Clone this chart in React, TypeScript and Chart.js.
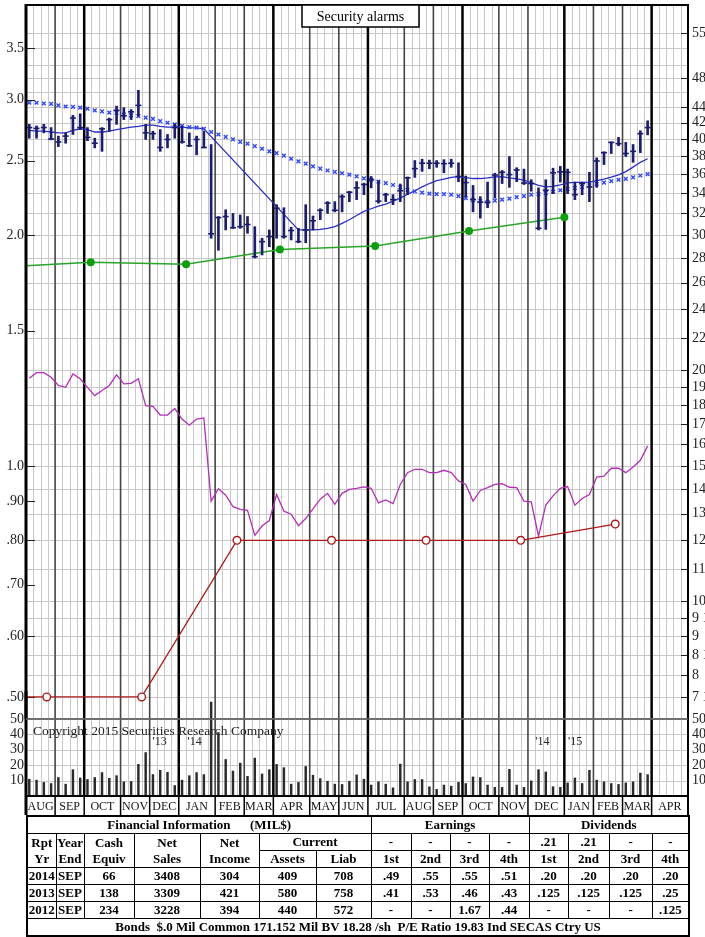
import React, { useEffect, useRef } from 'react';
import { Chart, registerables } from 'chart.js';

Chart.register(...registerables);

const SERIF = '"Liberation Serif", "Times New Roman", Times, serif';

// ---------------- data ----------------
const MONTHS = ['AUG', 'SEP', 'OCT', 'NOV', 'DEC', 'JAN', 'FEB', 'MAR', 'APR', 'MAY', 'JUN', 'JUL', 'AUG', 'SEP', 'OCT', 'NOV', 'DEC', 'JAN', 'FEB', 'MAR', 'APR'];
const MONTH_BOUNDS = [0, 4, 8, 13, 17, 21, 26, 30, 34, 39, 43, 47, 52, 56, 60, 65, 69, 74, 78, 82, 86, 91];
const QUARTER_BOUNDS = [8, 21, 34, 47, 60, 74, 86];
const TOTAL_WEEKS = 91;
const BAR_OFFSET = 0.45;

const HIGH = [41.8, 41.6, 41.8, 41.4, 40.35, 40.75, 42.95, 43.15, 41.4, 40.1, 41.4, 42.6, 44.15, 43.95, 43.7, 46.3, 41.8, 40.95, 41.15, 40.55, 41.85, 41.6, 40.75, 40.35, 40.95, 39.35, 31.7, 32.35, 32.0, 31.85, 31.7, 30.75, 29.7, 30.45, 32.85, 32.55, 30.7, 30.6, 32.85, 31.75, 32.45, 33.15, 33.15, 33.85, 34.2, 35.2, 35.05, 35.75, 35.3, 34.0, 33.85, 34.95, 35.7, 37.5, 37.65, 37.55, 37.5, 37.6, 37.65, 37.25, 35.8, 34.8, 33.65, 35.15, 36.1, 36.4, 37.95, 36.7, 36.55, 35.4, 34.55, 35.4, 36.65, 36.85, 36.55, 35.15, 35.15, 36.2, 37.8, 38.5, 39.65, 40.2, 39.6, 39.35, 41.0, 42.25];
const LOW = [40.1, 40.1, 40.75, 39.9, 39.1, 39.5, 40.55, 41.15, 39.8, 38.95, 38.55, 40.95, 41.8, 42.4, 42.4, 42.85, 39.95, 39.95, 38.55, 38.95, 40.1, 39.5, 39.1, 38.15, 38.95, 29.7, 28.65, 30.45, 30.6, 30.6, 30.15, 28.0, 28.25, 28.95, 29.7, 29.7, 29.55, 29.3, 29.3, 30.45, 31.4, 32.0, 32.15, 32.15, 33.15, 33.35, 33.85, 34.55, 33.0, 33.15, 32.85, 33.15, 33.85, 35.65, 36.3, 36.6, 36.75, 36.15, 36.75, 35.2, 33.65, 32.15, 31.55, 32.55, 33.5, 35.0, 34.6, 35.2, 34.9, 34.2, 30.45, 30.5, 33.95, 35.15, 33.95, 33.35, 33.85, 33.15, 34.6, 37.05, 38.3, 39.2, 37.95, 37.3, 38.4, 40.5];
const CLOSE = [41.4, 41.3, 41.4, 40.0, 39.65, 40.35, 42.6, 41.4, 40.2, 39.5, 41.25, 42.4, 43.6, 42.9, 43.4, 44.25, 40.75, 40.65, 39.0, 39.95, 41.4, 39.65, 39.2, 39.95, 39.0, 30.1, 31.6, 31.7, 30.65, 30.75, 30.95, 28.1, 29.4, 29.85, 32.5, 29.85, 30.4, 29.4, 30.45, 31.3, 32.3, 33.0, 32.3, 33.65, 34.1, 34.55, 34.9, 35.4, 33.2, 33.85, 33.35, 34.25, 35.6, 36.6, 37.2, 37.2, 37.2, 37.15, 37.2, 35.75, 35.1, 33.35, 33.1, 33.1, 35.9, 36.2, 35.95, 36.45, 35.05, 35.0, 30.6, 34.3, 36.15, 36.25, 36.2, 33.85, 35.0, 34.65, 37.45, 38.4, 39.6, 39.45, 38.3, 38.55, 40.65, 41.4];
const MA_LONG = [44.6, 44.6, 44.5, 44.45, 44.25, 44.1, 44.05, 43.95, 43.8, 43.6, 43.45, 43.3, 43.25, 43.05, 42.95, 42.85, 42.65, 42.5, 42.2, 42.0, 41.8, 41.6, 41.45, 41.4, 41.25, 40.85, 40.55, 40.25, 39.95, 39.65, 39.45, 39.15, 38.85, 38.55, 38.35, 38.05, 37.7, 37.4, 37.15, 36.85, 36.6, 36.4, 36.25, 36.1, 35.95, 35.75, 35.55, 35.4, 35.2, 35.05, 34.85, 34.6, 34.35, 34.2, 34.05, 33.95, 33.9, 33.9, 33.85, 33.7, 33.5, 33.3, 33.2, 33.1, 33.25, 33.35, 33.45, 33.6, 33.7, 33.85, 33.9, 34.0, 34.15, 34.3, 34.45, 34.55, 34.65, 34.8, 34.95, 35.1, 35.25, 35.4, 35.5, 35.65, 35.85, 36.0];
const MA_SHORT = [41.05, 40.95, 40.95, 40.85, 40.75, 40.75, 41.05, 41.25, 41.15, 40.85, 40.85, 40.95, 41.15, 41.3, 41.45, 41.55, 41.7, 41.7, 41.55, 41.45, 41.45, 41.45, 41.35, 41.35, 41.25, null, null, null, null, null, null, null, null, null, null, null, null, 30.45, 30.45, 30.45, 30.5, 30.6, 30.75, 31.05, 31.4, 31.8, 32.2, 32.45, 32.7, 32.9, 33.2, 33.5, 33.9, 34.25, 34.65, 35.0, 35.3, 35.47, 35.65, 35.73, 35.62, 35.53, 35.53, 35.6, 35.7, 35.73, 35.6, 35.5, 35.36, 35.1, 34.8, 34.65, 34.7, 34.85, 35.08, 35.13, 35.13, 35.14, 35.3, 35.47, 35.68, 35.93, 36.27, 36.77, 37.3, 37.7];
const REL_STRENGTH = [1.301, 1.323, 1.323, 1.305, 1.273, 1.266, 1.318, 1.299, 1.266, 1.235, 1.254, 1.273, 1.314, 1.279, 1.281, 1.299, 1.198, 1.196, 1.165, 1.165, 1.188, 1.151, 1.130, 1.151, 1.155, 0.900, 0.934, 0.916, 0.885, 0.878, 0.875, 0.812, 0.835, 0.849, 0.918, 0.873, 0.865, 0.836, 0.854, 0.879, 0.905, 0.921, 0.891, 0.921, 0.932, 0.935, 0.939, 0.935, 0.895, 0.903, 0.893, 0.946, 0.980, 0.990, 0.990, 0.980, 0.980, 0.987, 0.980, 0.956, 0.946, 0.900, 0.929, 0.937, 0.946, 0.948, 0.938, 0.937, 0.900, 0.898, 0.810, 0.889, 0.914, 0.935, 0.940, 0.889, 0.907, 0.918, 0.967, 0.970, 0.993, 0.993, 0.980, 0.997, 1.017, 1.062];
const VOLUME = [10.9, 10.3, 8.8, 8.1, 12.0, 7.7, 17.1, 11.7, 10.7, 12.0, 15.2, 11.5, 13.2, 9.2, 9.4, 20.5, 28.2, 13.9, 16.7, 15.4, 6.8, 10.3, 13.2, 15.2, 13.9, 61.0, 41.2, 23.7, 16.2, 21.4, 12.8, 24.6, 14.3, 17.1, 20.5, 18.4, 7.7, 8.8, 19.2, 13.5, 11.3, 9.6, 7.7, 7.5, 9.6, 13.7, 10.9, 7.1, 9.2, 7.7, 5.3, 20.7, 9.2, 10.7, 10.7, 6.0, 4.3, 7.1, 6.4, 8.8, 8.1, 12.4, 12.0, 7.1, 5.6, 5.6, 17.3, 7.1, 5.6, 9.8, 17.1, 15.6, 6.0, 5.6, 8.5, 11.7, 8.1, 16.7, 10.3, 9.2, 8.1, 7.5, 8.5, 9.2, 14.9, 13.9];

const EARN_WEEK = [0, 8.9, 22, 34.9, 48, 60.9, 74];
const EARN_VALUE = [1.823, 1.842, 1.832, 1.915, 1.934, 2.024, 2.109];
const DIV_WEEK = [0, 2.85, 15.9, 29, 42, 55, 68, 81];
const DIV_VALUE = [0.5, 0.5, 0.5, 0.8, 0.8, 0.8, 0.8, 0.84];

const LEFT_TICKS = [3.5, 3.0, 2.5, 2.0, 1.5, 1.0, 0.9, 0.8, 0.7, 0.6, 0.5];
const LEFT_LABELS = ['3.5', '3.0', '2.5', '2.0', '1.5', '1.0', '.90', '.80', '.70', '.60', '.50'];
const RIGHT_TICKS = [55, 48, 44, 42, 40, 38, 36, 34, 32, 30, 28, 26, 24, 22, 20, 19, 18, 17, 16, 15, 14, 13, 12, 11, 10, 9.5, 9, 8.5, 8, 7.5];
const RIGHT_LABELS = ['55', '48', '44', '42', '40', '38', '36', '34', '32', '30', '28', '26', '24', '22', '20', '19', '18', '17', '16', '15', '14', '13', '12', '11', '10', '9 1/2', '9', '8 1/2', '8', '7 1/2'];
const GRID_PRICES = [55, 52.5, 50, 48, 46, 44, 42, 40, 38, 36, 34, 32, 30, 28, 26, 24, 22, 20, 19, 18, 17, 16, 15, 14, 13, 12, 11, 10, 9.5, 9, 8.5, 8, 7.5];
const PRICE_MIN = 7.02;
const PRICE_MAX = 59.8;
const EPS_RATIO = 15;
const VOL_TICKS = [50, 40, 30, 20, 10];
const VOL_GRID = [10, 20, 30, 40];
const YEAR_MARKS = [{ t: "'13", w: 17.4 }, { t: "'14", w: 22.2 }, { t: "'14", w: 70.0 }, { t: "'15", w: 74.5 }];
const TITLE = 'Security alarms';
const COPYRIGHT = 'Copyright 2015 Securities Research Company';

const COL_WIDTHS = [29, 28, 50, 66, 59, 57, 55, 40, 39, 39, 40, 39, 41, 43, 37];
const FIN_HEAD = [['Rpt', 'Yr'], ['Year', 'End'], ['Cash', 'Equiv'], ['Net', 'Sales'], ['Net', 'Income']];
const FIN_ROWS = [['2014', 'SEP', '66', '3408', '304', '409', '708'], ['2013', 'SEP', '138', '3309', '421', '580', '758'], ['2012', 'SEP', '234', '3228', '394', '440', '572']];
const EARN_PENDING = ['-', '-', '-', '-'];
const DIV_PENDING = ['.21', '.21', '-', '-'];
const QUARTERS = ['1st', '2nd', '3rd', '4th'];
const EARN_ROWS = [['.49', '.55', '.55', '.51'], ['.41', '.53', '.46', '.43'], ['-', '-', '1.67', '.44']];
const DIV_ROWS = [['.20', '.20', '.20', '.20'], ['.125', '.125', '.125', '.25'], ['-', '-', '-', '.125']];
const FOOTER = 'Bonds  $.0 Mil Common 171.152 Mil BV 18.28 /sh  P/E Ratio 19.83 Ind SECAS Ctry US';

// ---------------- helpers ----------------
function seg(ctx: CanvasRenderingContext2D, x1: number, y1: number, x2: number, y2: number) {
  ctx.beginPath();
  ctx.moveTo(x1, y1);
  ctx.lineTo(x2, y2);
  ctx.stroke();
}

function drawVerticalGrid(ctx: CanvasRenderingContext2D, x: any, top: number, bottom: number) {
  ctx.strokeStyle = '#c8c8c8';
  ctx.lineWidth = 1;
  for (let k = 1; k < TOTAL_WEEKS; k++) {
    if (MONTH_BOUNDS.includes(k)) continue;
    const px = Math.round(x.getPixelForValue(k)) + 0.5;
    seg(ctx, px, top, px, bottom);
  }
  for (const k of MONTH_BOUNDS) {
    if (k === 0 || k === TOTAL_WEEKS) continue;
    const q = QUARTER_BOUNDS.includes(k);
    ctx.strokeStyle = q ? '#000' : '#454545';
    ctx.lineWidth = q ? 2.5 : 1.6;
    const px = x.getPixelForValue(k);
    seg(ctx, px, top, px, bottom);
  }
}

const fitY = (w: number) => (s: any) => {
  s.width = w;
  s.paddingTop = 0;
  s.paddingBottom = 0;
  s.paddingLeft = 0;
  s.paddingRight = 0;
};

const pricePlugin = {
  id: 'priceDecor',
  beforeDatasetsDraw(chart: any) {
    const { ctx, chartArea: a, scales } = chart;
    ctx.save();
    ctx.strokeStyle = '#c8c8c8';
    ctx.lineWidth = 1;
    for (const v of GRID_PRICES) {
      const y = Math.round(scales.yR.getPixelForValue(v)) + 0.5;
      seg(ctx, a.left, y, a.right, y);
    }
    drawVerticalGrid(ctx, scales.x, a.top, a.bottom);
    ctx.strokeStyle = '#222';
    ctx.lineWidth = 1;
    for (const v of LEFT_TICKS) {
      const y = Math.round(scales.yL.getPixelForValue(v)) + 0.5;
      seg(ctx, a.left, y, a.left + 9, y);
    }
    for (const v of RIGHT_TICKS) {
      const y = Math.round(scales.yR.getPixelForValue(v)) + 0.5;
      seg(ctx, a.right - 7, y, a.right, y);
    }
    ctx.restore();
  },
  afterDraw(chart: any) {
    const { ctx, chartArea: a } = chart;
    ctx.save();
    ctx.strokeStyle = '#000';
    ctx.lineWidth = 3;
    seg(ctx, a.left, a.top - 1, a.left, a.bottom);
    ctx.lineWidth = 2;
    seg(ctx, a.left, a.top, a.right + 1, a.top);
    seg(ctx, a.right, a.top, a.right, a.bottom);
    ctx.strokeStyle = '#666';
    ctx.lineWidth = 1.5;
    seg(ctx, a.left, a.bottom, a.right, a.bottom);
    // title box
    const bx = 302, bw = 117, by = a.top, bh = 22;
    ctx.fillStyle = '#fff';
    ctx.fillRect(bx, by, bw, bh);
    ctx.strokeStyle = '#000';
    ctx.lineWidth = 1.5;
    ctx.strokeRect(bx, by, bw, bh);
    ctx.fillStyle = '#000';
    ctx.font = `14px ${SERIF}`;
    ctx.textAlign = 'center';
    ctx.textBaseline = 'middle';
    ctx.fillText(TITLE, bx + bw / 2, by + bh / 2 + 1);
    ctx.restore();
  },
};

const volumePlugin = {
  id: 'volDecor',
  beforeDatasetsDraw(chart: any) {
    const { ctx, chartArea: a, scales } = chart;
    ctx.save();
    ctx.strokeStyle = '#c8c8c8';
    ctx.lineWidth = 1;
    for (const v of VOL_GRID) {
      const y = Math.round(scales.yV.getPixelForValue(v)) + 0.5;
      seg(ctx, a.left, y, a.right, y);
    }
    drawVerticalGrid(ctx, scales.x, a.top, a.bottom);
    ctx.fillStyle = '#222';
    ctx.textBaseline = 'middle';
    ctx.textAlign = 'left';
    ctx.font = `13.5px ${SERIF}`;
    ctx.fillText(COPYRIGHT, a.left + 7, a.top + 12);
    ctx.font = `12px ${SERIF}`;
    for (const m of YEAR_MARKS) {
      ctx.fillText(m.t, scales.x.getPixelForValue(m.w), a.top + 23);
    }
    ctx.restore();
  },
  afterDraw(chart: any) {
    const { ctx, chartArea: a, scales, height } = chart;
    ctx.save();
    ctx.strokeStyle = '#000';
    ctx.lineWidth = 1.5;
    for (const k of MONTH_BOUNDS) {
      const px = scales.x.getPixelForValue(k);
      seg(ctx, px, a.bottom, px, height);
    }
    ctx.lineWidth = 3;
    seg(ctx, a.left, 0, a.left, height);
    ctx.lineWidth = 2;
    seg(ctx, a.right, 0, a.right, height);
    seg(ctx, a.left, a.bottom, a.right, a.bottom);
    ctx.strokeStyle = '#666';
    ctx.lineWidth = 1.5;
    seg(ctx, a.left, a.top, a.right, a.top);
    ctx.restore();
  },
};

const xs = (i: number) => i + BAR_OFFSET;

function PriceChart() {
  const ref = useRef<HTMLCanvasElement>(null);
  useEffect(() => {
    const navy = '#1c1c72';
    const chart = new Chart(ref.current as HTMLCanvasElement, {
      type: 'bar',
      data: {
        datasets: [
          {
            type: 'bar',
            data: HIGH.map((h, i) => ({ x: xs(i), y: [LOW[i], h] })) as any,
            yAxisID: 'yR',
            backgroundColor: navy,
            borderWidth: 0,
            barThickness: 2,
          },
          {
            type: 'scatter',
            data: CLOSE.map((c, i) => ({ x: xs(i), y: c })),
            yAxisID: 'yR',
            pointStyle: 'line',
            pointRadius: 3,
            pointBorderWidth: 1.6,
            borderColor: navy,
            backgroundColor: navy,
          },
          {
            type: 'scatter',
            data: MA_LONG.map((v, i) => ({ x: xs(i), y: v })),
            yAxisID: 'yR',
            pointStyle: 'crossRot',
            pointRadius: 2.6,
            pointBorderWidth: 1.4,
            borderColor: '#2f45ff',
            backgroundColor: '#2f45ff',
          },
          {
            type: 'line',
            data: MA_SHORT.map((v, i) => ({ x: xs(i), y: v })) as any,
            yAxisID: 'yR',
            borderColor: '#2a2ec4',
            borderWidth: 1.3,
            pointRadius: 0,
            spanGaps: true,
            tension: 0,
          },
          {
            type: 'line',
            data: EARN_WEEK.map((w, i) => ({ x: w, y: EARN_VALUE[i] })),
            yAxisID: 'yL',
            borderColor: '#2aa52a',
            borderWidth: 1.5,
            pointRadius: EARN_WEEK.map((w, i) => (i === 0 ? 0 : 4)),
            pointBackgroundColor: '#0d9e0d',
            pointBorderColor: '#0d9e0d',
            pointBorderWidth: 0,
          },
          {
            type: 'line',
            data: DIV_WEEK.map((w, i) => ({ x: w, y: DIV_VALUE[i] })),
            yAxisID: 'yL',
            borderColor: '#b01818',
            borderWidth: 1.3,
            pointRadius: DIV_WEEK.map((w, i) => (i === 0 ? 0 : 3.8)),
            pointBackgroundColor: '#ffffff',
            pointBorderColor: '#b01818',
            pointBorderWidth: 1.4,
          },
          {
            type: 'line',
            data: REL_STRENGTH.map((v, i) => ({ x: xs(i), y: v })),
            yAxisID: 'yL',
            borderColor: '#b42fb9',
            borderWidth: 1.3,
            pointRadius: 0,
            tension: 0,
          },
        ],
      },
      options: {
        animation: false,
        responsive: false,
        events: [],
        layout: { autoPadding: false, padding: { top: 5, bottom: 1, left: 0, right: 0 } },
        plugins: { legend: { display: false }, tooltip: { enabled: false }, title: { display: false } },
        scales: {
          x: {
            type: 'linear',
            min: 0,
            max: TOTAL_WEEKS,
            offset: false,
            bounds: 'data',
            display: false,
            grid: { display: false, offset: false },
          },
          yL: {
            type: 'logarithmic',
            position: 'left',
            min: PRICE_MIN / EPS_RATIO,
            max: PRICE_MAX / EPS_RATIO,
            bounds: 'data',
            beginAtZero: false,
            grid: { display: false, drawTicks: false },
            border: { display: false },
            afterFit: fitY(26),
            afterBuildTicks: (s: any) => {
              s.ticks = LEFT_TICKS.map((v) => ({ value: v }));
            },
            ticks: {
              autoSkip: false,
              padding: 2,
              color: '#222',
              font: { family: SERIF, size: 14 },
              callback: (v: any, i: number) => LEFT_LABELS[i],
            },
          },
          yR: {
            type: 'logarithmic',
            position: 'right',
            min: PRICE_MIN,
            max: PRICE_MAX,
            bounds: 'data',
            beginAtZero: false,
            grid: { display: false, drawTicks: false },
            border: { display: false },
            afterFit: fitY(17),
            afterBuildTicks: (s: any) => {
              s.ticks = RIGHT_TICKS.map((v) => ({ value: v }));
            },
            ticks: {
              autoSkip: false,
              padding: 4,
              color: '#222',
              font: { family: SERIF, size: 14 },
              callback: (v: any, i: number) => RIGHT_LABELS[i],
            },
          },
        } as any,
      },
      plugins: [pricePlugin],
    } as any);
    return () => chart.destroy();
  }, []);
  return <canvas ref={ref} width={705} height={720} style={{ position: 'absolute', left: 0, top: 0, width: 705, height: 720 }} />;
}

function VolumeChart() {
  const ref = useRef<HTMLCanvasElement>(null);
  useEffect(() => {
    const centers = MONTHS.map((m, i) => (MONTH_BOUNDS[i] + MONTH_BOUNDS[i + 1]) / 2);
    const volAxis = (pos: string, w: number, pad: number) => ({
      type: 'linear',
      position: pos,
      min: 0,
      max: 50,
      bounds: 'data',
      grid: { display: false, drawTicks: false },
      border: { display: false },
      afterFit: fitY(w),
      afterBuildTicks: (s: any) => {
        s.ticks = VOL_TICKS.map((v) => ({ value: v }));
      },
      ticks: {
        autoSkip: false,
        padding: pad,
        color: '#222',
        font: { family: SERIF, size: 14 },
        callback: (v: any) => String(v),
      },
    });
    const chart = new Chart(ref.current as HTMLCanvasElement, {
      type: 'bar',
      data: {
        datasets: [
          {
            type: 'bar',
            data: VOLUME.map((v, i) => ({ x: xs(i), y: v })),
            yAxisID: 'yV',
            backgroundColor: '#2a2a2a',
            borderWidth: 0,
            barThickness: 1.8,
            clip: false,
          },
        ],
      },
      options: {
        animation: false,
        responsive: false,
        events: [],
        layout: { autoPadding: false, padding: { top: 28, bottom: 0, left: 0, right: 0 } },
        plugins: { legend: { display: false }, tooltip: { enabled: false } },
        scales: {
          x: {
            type: 'linear',
            min: 0,
            max: TOTAL_WEEKS,
            offset: false,
            bounds: 'data',
            position: 'bottom',
            grid: { display: false, drawTicks: false, offset: false },
            border: { display: false },
            afterFit: (s: any) => {
              s.height = 19;
              s.paddingLeft = 0;
              s.paddingRight = 0;
              s.paddingTop = 0;
              s.paddingBottom = 0;
            },
            afterBuildTicks: (s: any) => {
              s.ticks = centers.map((v) => ({ value: v }));
            },
            ticks: {
              autoSkip: false,
              maxRotation: 0,
              minRotation: 0,
              padding: 4,
              color: '#111',
              font: { family: SERIF, size: 12 },
              callback: (v: any, i: number) => MONTHS[i],
            },
          },
          yV: volAxis('left', 26, 2),
          yVR: volAxis('right', 17, 4),
        } as any,
      },
      plugins: [volumePlugin],
    } as any);
    return () => chart.destroy();
  }, []);
  return <canvas ref={ref} width={705} height={124} style={{ position: 'absolute', left: 0, top: 691, width: 705, height: 124 }} />;
}

const cell: React.CSSProperties = {
  border: '1px solid #000',
  padding: 0,
  textAlign: 'center',
  height: 16,
  lineHeight: '16px',
  whiteSpace: 'pre',
  overflow: 'hidden',
};

function FinTable() {
  return (
    <table
      style={{
        position: 'absolute',
        left: 26,
        top: 815,
        width: 662,
        borderCollapse: 'collapse',
        tableLayout: 'fixed',
        fontFamily: SERIF,
        fontWeight: 'bold',
        fontSize: 13,
        color: '#000',
        border: '2px solid #000',
      }}
    >
      <colgroup>
        {COL_WIDTHS.map((w, i) => (
          <col key={i} style={{ width: w }} />
        ))}
      </colgroup>
      <tbody>
        <tr>
          <td colSpan={7} style={cell}>{'Financial Information      (MIL$)'}</td>
          <td colSpan={4} style={cell}>Earnings</td>
          <td colSpan={4} style={cell}>Dividends</td>
        </tr>
        <tr>
          {FIN_HEAD.map(([a, b], i) => (
            <td key={i} rowSpan={2} style={cell}>
              {a}
              <br />
              {b}
            </td>
          ))}
          <td colSpan={2} style={cell}>Current</td>
          {EARN_PENDING.map((v, i) => (
            <td key={'e' + i} style={cell}>{v}</td>
          ))}
          {DIV_PENDING.map((v, i) => (
            <td key={'d' + i} style={cell}>{v}</td>
          ))}
        </tr>
        <tr>
          <td style={cell}>Assets</td>
          <td style={cell}>Liab</td>
          {QUARTERS.map((q, i) => (
            <td key={'q1' + i} style={cell}>{q}</td>
          ))}
          {QUARTERS.map((q, i) => (
            <td key={'q2' + i} style={cell}>{q}</td>
          ))}
        </tr>
        {FIN_ROWS.map((r, ri) => (
          <tr key={ri}>
            {r.map((v, i) => (
              <td key={'f' + i} style={cell}>{v}</td>
            ))}
            {EARN_ROWS[ri].map((v, i) => (
              <td key={'e' + i} style={cell}>{v}</td>
            ))}
            {DIV_ROWS[ri].map((v, i) => (
              <td key={'d' + i} style={cell}>{v}</td>
            ))}
          </tr>
        ))}
        <tr>
          <td colSpan={15} style={cell}>{FOOTER}</td>
        </tr>
      </tbody>
    </table>
  );
}

export default function App() {
  useEffect(() => {
    document.body.style.margin = '0';
  }, []);
  return (
    <div style={{ position: 'absolute', left: 0, top: 0, width: 705, height: 937, background: '#fff', overflow: 'hidden' }}>
      <PriceChart />
      <VolumeChart />
      <FinTable />
    </div>
  );
}
